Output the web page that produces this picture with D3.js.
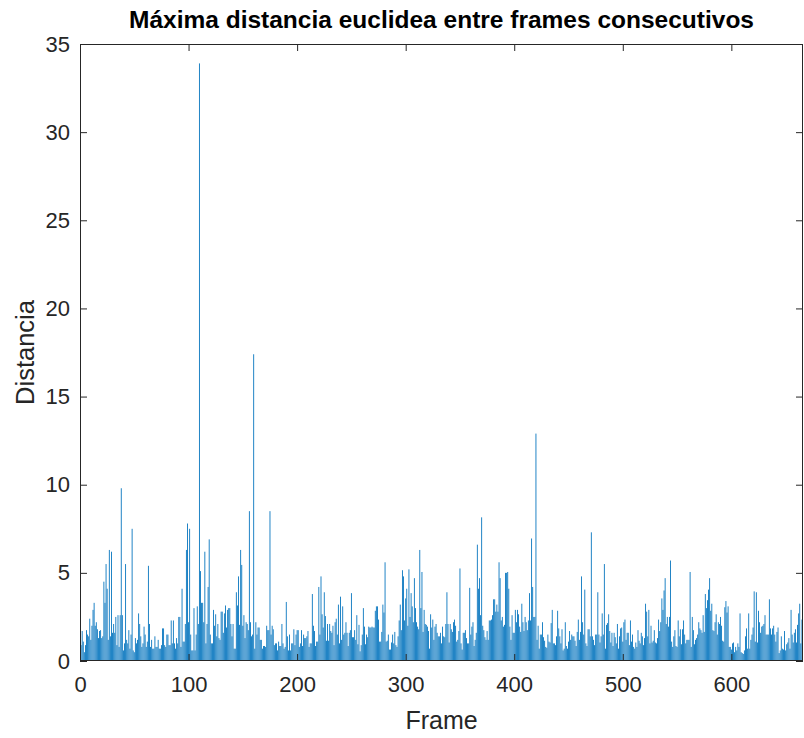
<!DOCTYPE html>
<html>
<head>
<meta charset="utf-8">
<script src="https://cdn.jsdelivr.net/npm/d3@7/dist/d3.min.js"></script>
<style>
  html, body { margin: 0; padding: 0; background: #fff; }
  svg { display: block; }
  text { font-family: "Liberation Sans", Arial, Helvetica, sans-serif; }
</style>
</head>
<body>
<svg id="chart" width="804" height="738"></svg>
<script>
// ---- data ----
const title = "Máxima distancia euclidea entre frames consecutivos";
const xLabel = "Frame";
const yLabel = "Distancia";
const xTicks = [0, 100, 200, 300, 400, 500, 600];
const yTicks = [0, 5, 10, 15, 20, 25, 30, 35];
const xDomain = [0, 666];
const yDomain = [0, 35];
// maximum euclidean distance per frame (frames 1..665)
const distances = [
  0.9,1.7,1.1,0.5,0.9,1.75,1.5,1.4,2.4,1.2,
  2.0,2.9,3.3,2.0,2.2,1.8,1.3,1.7,1.75,1.3,
  1.4,4.5,3.3,5.5,4.1,1.2,6.3,1.4,6.2,1.6,
  2.1,1.6,2.5,0.9,2.6,0.8,2.6,9.8,2.6,0.6,
  1.0,5.5,1.2,1.0,1.75,0.7,1.5,7.5,0.6,0.5,
  1.3,1.0,1.2,2.7,2.1,1.4,0.8,1.0,1.95,1.5,
  0.8,1.1,5.4,2.1,0.8,1.2,0.7,0.7,1.4,0.8,
  0.8,1.2,0.7,0.7,0.9,1.85,1.85,0.9,0.8,1.5,
  1.5,0.9,0.9,2.3,1.0,2.3,1.0,0.7,1.3,1.0,
  2.5,2.5,0.8,4.1,1.1,1.1,2.1,6.3,7.8,2.2,
  7.5,1.5,0.6,0.6,3.0,0.6,1.5,3.1,2.1,33.9,
  5.1,3.3,3.3,2.2,6.2,1.0,2.1,4.2,6.9,1.5,
  1.0,1.0,2.9,2.0,2.65,1.4,2.1,1.3,1.2,2.8,
  2.8,1.6,2.7,3.15,1.9,2.9,3.0,3.0,2.1,1.4,
  2.1,0.7,0.7,3.9,3.15,4.8,2.05,6.3,5.45,2.0,
  2.6,1.3,2.2,2.1,1.75,8.5,2.2,1.4,1.5,17.4,
  0.7,2.2,1.5,1.9,1.9,1.2,1.2,0.7,0.85,0.85,
  0.8,2.0,1.75,1.75,8.5,1.5,2.0,1.8,0.9,1.0,
  1.0,0.6,1.1,0.85,0.85,2.1,1.0,0.7,0.8,3.35,
  1.4,0.6,1.5,0.6,1.0,1.0,1.8,0.9,1.5,1.75,
  1.75,0.8,1.0,1.75,0.85,1.5,1.3,1.3,1.4,1.7,
  0.8,1.0,1.0,3.8,2.0,1.7,0.85,1.1,1.1,4.2,
  1.5,4.8,2.65,1.9,3.9,2.55,1.15,2.1,1.15,2.1,
  1.7,1.6,2.0,0.9,2.2,2.4,1.5,3.2,1.0,3.65,
  1.2,3.1,1.5,1.6,2.2,1.6,0.85,1.6,1.75,3.85,
  1.35,1.35,1.75,1.2,2.6,0.95,2.05,0.55,0.9,1.5,
  3.0,1.95,0.95,1.5,1.35,1.95,1.9,1.9,1.95,1.9,
  1.9,2.85,3.1,3.1,2.35,1.1,1.1,1.65,3.2,2.75,
  5.6,1.1,1.15,1.5,0.65,0.65,1.05,1.5,1.0,1.65,
  0.9,0.8,1.4,2.3,3.2,1.75,5.15,4.8,2.3,3.55,
  4.1,2.0,5.2,2.5,3.85,3.1,2.2,4.7,3.0,2.2,
  1.95,1.8,6.3,3.0,5.05,1.65,2.9,2.1,2.05,1.95,
  1.7,0.7,2.65,1.9,2.35,1.2,1.95,2.1,1.6,1.4,
  1.4,1.6,1.0,1.95,1.4,1.35,2.1,3.9,2.1,1.05,
  2.1,1.8,1.65,2.2,2.35,2.0,1.1,1.2,1.7,5.25,
  1.0,0.65,1.6,1.6,1.75,1.3,1.0,1.0,4.15,1.5,
  1.95,2.2,0.85,1.2,1.6,6.6,4.1,4.7,2.6,8.15,
  2.0,1.75,1.35,1.2,1.7,1.2,2.3,2.3,2.35,2.6,
  3.5,3.5,2.8,3.2,2.8,5.6,4.7,2.3,2.5,1.95,
  2.05,5.0,5.0,5.05,4.1,1.95,1.2,2.6,1.6,1.6,
  2.9,2.2,2.9,2.65,1.95,1.65,3.25,2.2,1.7,2.5,
  2.2,1.75,2.3,3.85,2.3,6.95,4.2,2.5,2.5,12.9,
  1.2,2.0,0.7,1.5,1.5,2.2,1.35,1.15,0.8,0.75,
  1.5,1.1,1.05,2.15,2.9,1.0,1.0,0.9,1.4,2.85,
  1.85,1.4,1.0,1.8,0.6,0.7,2.2,0.85,0.7,1.1,
  1.7,1.2,1.5,1.4,1.4,1.15,0.85,1.65,2.35,1.2,
  1.65,4.8,2.2,1.5,4.05,1.0,0.85,1.8,1.8,1.4,
  7.3,1.4,1.2,0.9,1.5,1.5,3.9,1.5,1.05,1.4,
  2.7,1.5,5.5,0.7,2.05,2.15,2.65,1.7,1.05,1.6,
  0.85,1.6,1.35,1.0,2.1,0.7,1.4,1.85,1.9,1.1,
  2.2,2.35,1.2,1.6,1.6,0.9,2.3,1.1,1.5,0.8,
  0.7,1.05,0.8,1.75,1.15,1.0,1.6,1.4,0.9,1.3,
  3.25,2.8,1.4,2.9,1.0,2.0,1.05,1.15,1.75,1.05,
  1.0,1.3,2.35,1.7,2.2,3.55,2.9,4.0,4.7,2.1,
  2.5,1.95,2.5,5.7,1.1,0.8,1.4,1.75,0.85,0.8,
  2.3,1.4,1.8,0.95,1.8,2.3,1.5,1.0,1.2,1.2,
  1.2,5.05,0.8,2.5,1.75,0.95,1.2,1.3,1.5,2.2,
  1.85,1.75,1.6,2.6,1.65,3.8,3.0,3.45,4.05,4.7,
  2.85,3.25,1.75,1.7,2.2,2.65,1.5,2.2,2.1,2.5,
  2.0,1.15,1.1,3.05,3.4,2.75,3.1,0.8,0.8,0.65,
  1.0,1.05,0.5,0.8,0.6,1.0,0.8,2.7,0.5,0.45,
  0.4,0.6,1.4,1.85,0.7,2.7,0.7,1.2,1.5,1.9,
  3.95,1.1,3.9,1.05,2.85,2.2,1.6,1.95,2.0,2.1,
  2.6,1.5,1.5,1.5,3.5,1.85,1.5,1.85,2.0,1.5,
  1.1,1.65,1.9,0.45,0.6,1.4,0.7,0.65,1.7,0.6,
  0.95,1.05,1.3,0.7,2.9,1.5,1.05,1.6,1.8,1.05,
  2.05,2.7,3.25,1.0,2.35
];
const frames = distances.map((d, i) => i + 1);

// ---- layout ----
const L = 80, R = 803, T = 44, B = 661;
const barColor = "#0072BD";
const axisColor = "#262626";

const svg = d3.select("#chart");
const x = d3.scaleLinear().domain(xDomain).range([L, R]);
const y = d3.scaleLinear().domain(yDomain).range([B, T]);

// bars
const barW = 0.8;
svg.append("defs").append("clipPath").attr("id", "plotclip")
  .append("rect").attr("x", L).attr("y", T).attr("width", R - L).attr("height", B - T);
svg.append("g").attr("clip-path", "url(#plotclip)")
  .selectAll("rect").data(frames).join("rect")
  .attr("x", f => x(f - barW / 2))
  .attr("width", f => x(f + barW / 2) - x(f - barW / 2))
  .attr("y", (f, i) => y(distances[i]))
  .attr("height", (f, i) => y(0) - y(distances[i]))
  .attr("fill", barColor);

// axes
const tickLen = 7;
function styleAxis(g) {
  g.select(".domain").remove();
  g.selectAll(".tick line").attr("stroke", axisColor).attr("stroke-width", 1);
  g.selectAll(".tick text").attr("fill", axisColor).attr("font-size", 22);
}
svg.append("g").attr("transform", `translate(0,${B})`)
  .call(d3.axisBottom(x).tickValues(xTicks).tickFormat(d3.format("d"))
    .tickSizeInner(-tickLen).tickSizeOuter(0).tickPadding(15))
  .call(styleAxis);
svg.append("g").attr("transform", `translate(0,${T})`)
  .call(d3.axisTop(x).tickValues(xTicks).tickFormat("")
    .tickSizeInner(-tickLen).tickSizeOuter(0))
  .call(styleAxis);
svg.append("g").attr("transform", `translate(${L},0)`)
  .call(d3.axisLeft(y).tickValues(yTicks).tickFormat(d3.format("d"))
    .tickSizeInner(-tickLen).tickSizeOuter(0).tickPadding(10))
  .call(styleAxis);
svg.append("g").attr("transform", `translate(${R},0)`)
  .call(d3.axisRight(y).tickValues(yTicks).tickFormat("")
    .tickSizeInner(-tickLen).tickSizeOuter(0))
  .call(styleAxis);

// box
svg.append("rect")
  .attr("x", L + 0.5).attr("y", T + 0.5)
  .attr("width", R - L - 1).attr("height", B - T - 1)
  .attr("fill", "none").attr("stroke", axisColor).attr("stroke-width", 1);

// labels
svg.append("text").attr("x", (L + R) / 2).attr("y", 28)
  .attr("text-anchor", "middle").attr("font-size", 24.5).attr("font-weight", "bold")
  .attr("fill", "#000").text(title);
svg.append("text").attr("x", (L + R) / 2).attr("y", 729)
  .attr("text-anchor", "middle").attr("font-size", 25)
  .attr("fill", axisColor).text(xLabel);
svg.append("text").attr("transform", `translate(34,${(T + B) / 2}) rotate(-90)`)
  .attr("text-anchor", "middle").attr("font-size", 25.5)
  .attr("fill", axisColor).text(yLabel);
</script>
</body>
</html>
